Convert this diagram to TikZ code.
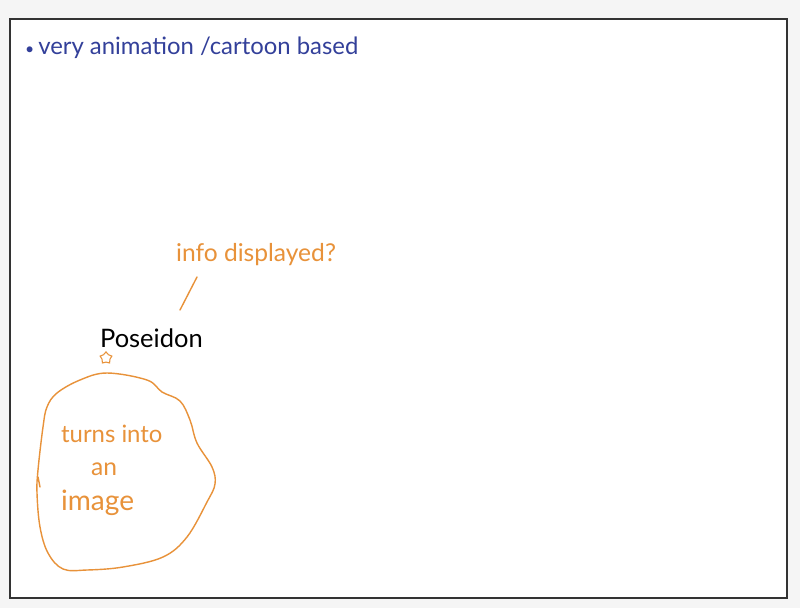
\documentclass[tikz,border=0pt]{standalone}
\usepackage{fontspec}
\setmainfont{Lato}
\usetikzlibrary{positioning, shapes.geometric}
\definecolor{penblue}{HTML}{33409A}
\definecolor{penorange}{HTML}{E8923A}

\begin{document}
\begin{tikzpicture}[
        x=0.02cm, y=-0.02cm,
        node distance=0.1cm and 0.2cm,
        scribble/.style={font=\fontsize{14}{16}\selectfont, inner sep=1pt, anchor=west},
        orangeink/.style={scribble, text=penorange},
        stroke/.style={penorange, line width=0.8pt, line cap=round, line join=round}
    ]
        \fill[black!4] (0,0) rectangle (800,608);
        \useasboundingbox (0,0) rectangle (800,608);
        \draw[black!80, line width=1.3pt, fill=white] (10,19) rectangle (787,598);
        \node[scribble, text=penblue, font=\fontsize{13.6}{16}\selectfont] (note) at (23,48) {{\small\textbullet}\,very animation /cartoon based};
        \node[orangeink] (info) at (174,255) {info displayed?};
        \node[scribble, text=black, font=\fontsize{14.5}{16}\selectfont] (poseidon) at (98,338) {Poseidon};
        \node[star, star points=5, draw=penorange, line width=0.6pt, minimum size=7pt, inner sep=0pt] (marker) at (106,358) {};
        \coordinate (tipA) at (197,277);
        \coordinate (tipB) at (180,310);
        \draw[stroke] (tipA) -- (tipB);
        % blob round the image note
        \draw[stroke] plot[smooth cycle, tension=0.6] coordinates {
            (107,373) (147,380) (162,392) (180,401) (190,420) (197,443) (212,467)
            (215,484) (207,502) (187,537) (163,557) (123,567) (87,570) (63,569)
            (48,553) (40,527) (37,493) (38,470) (43,427) (47,407) (57,393) (80,380)};
        \draw[stroke] (38,477) -- (40,487);
        \node[orangeink, font=\fontsize{13.6}{16}\selectfont] (turns) at (59,434) {turns into};
        \node[orangeink, below right=0.32cm and 0.6cm of turns.south west, anchor=north west] (an) {an};
        \node[orangeink, font=\fontsize{16}{18}\selectfont] (image) at (59,503) {image};
    \end{tikzpicture}
\end{document}
